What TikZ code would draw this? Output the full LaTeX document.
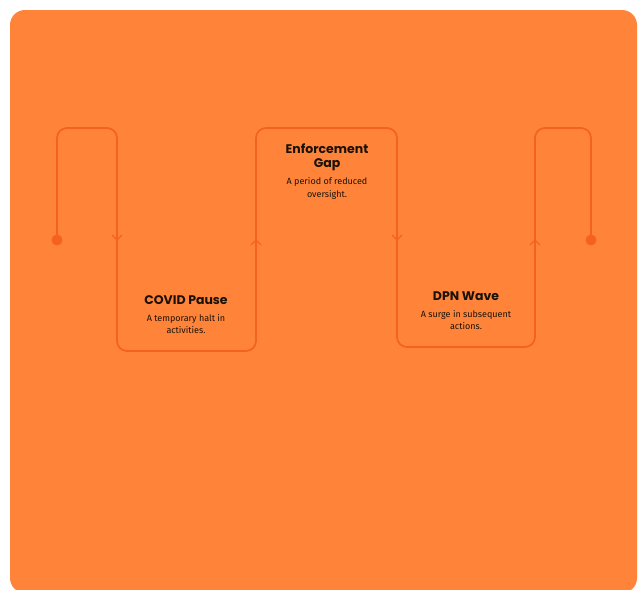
\documentclass[tikz,border=0pt]{standalone}
\usepackage{fontspec}
\setmainfont{Fira Sans}
\newfontfamily\titlefont{Poppins}
\definecolor{bgor}{HTML}{FF8439}
\definecolor{lineor}{HTML}{F5621E}
\definecolor{txt}{HTML}{1A1208}
\tikzset{
  flow/.style={draw=lineor, line width=1.8pt, rounded corners=10pt},
  chev/.style={draw=lineor, line width=1.3pt},
  ttl/.style={text=txt, font=\titlefont\bfseries\fontsize{12.5}{14.5}\selectfont, align=center, inner sep=0pt},
  sub/.style={text=txt, font=\fontsize{9}{12.5}\selectfont, align=center, inner sep=0pt},
}
\begin{document}
\begin{tikzpicture}[x=1pt,y=-1pt]
\useasboundingbox (0,0) rectangle (644,589);
\fill[bgor, rounded corners=15pt] (10,10) rectangle (637,593);
% path coordinates
\coordinate (s) at (57,240);
\coordinate (e) at (591,240);
\coordinate (m1) at (117,240);
\coordinate (m2) at (256,240);
\coordinate (m3) at (397,240);
\coordinate (m4) at (535,240);
\draw[flow] (s) -- (57,128) -- (117,128) -- (117,351) -- (256,351) -- (256,128) -- (397,128) -- (397,347) -- (535,347) -- (535,128) -- (591,128) -- (e);
\fill[lineor] (s) circle (5.5);
\fill[lineor] (e) circle (5.5);
% chevrons
\draw[chev] ([shift={(-5,-5)}]m1) -- (m1) -- ([shift={(5,-5)}]m1);
\draw[chev] ([shift={(-5,5)}]m2) -- (m2) -- ([shift={(5,5)}]m2);
\draw[chev] ([shift={(-5,-5)}]m3) -- (m3) -- ([shift={(5,-5)}]m3);
\draw[chev] ([shift={(-5,5)}]m4) -- (m4) -- ([shift={(5,5)}]m4);
% texts
\node[ttl] (t1) at (186,300) {COVID Pause};
\node[sub] (d1) at (186,324) {A temporary halt in\\activities.};
\node[ttl] (t2) at (327,157.5) {Enforcement\\Gap};
\node[sub] (d2) at (327,188.5) {A period of reduced\\oversight.};
\node[ttl] (t3) at (466,296) {DPN Wave};
\node[sub] (d3) at (466,320) {A surge in subsequent\\actions.};
\end{tikzpicture}
\end{document}
